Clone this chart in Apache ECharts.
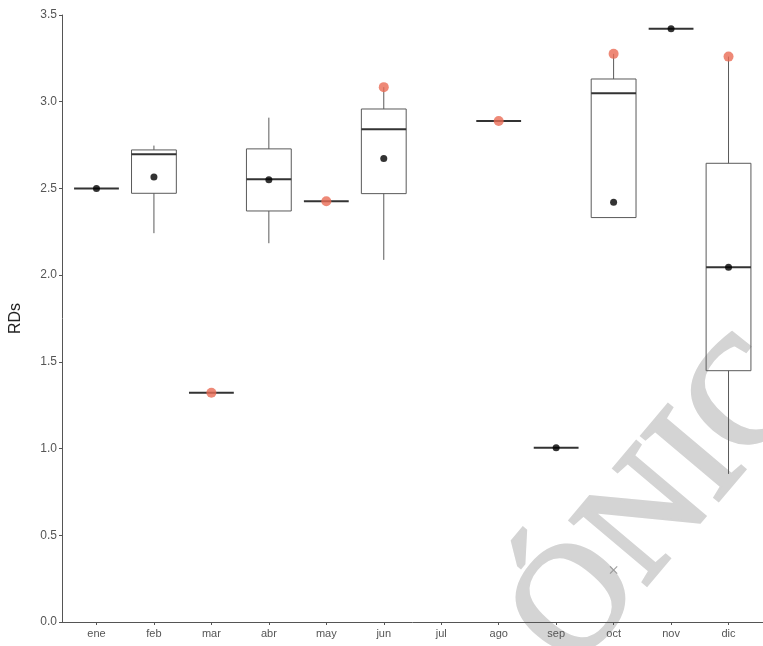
<!DOCTYPE html>
<html>
<head>
<meta charset="utf-8">
<script src="https://cdn.jsdelivr.net/npm/echarts@6/dist/echarts.min.js"></script>
<style>html,body{margin:0;padding:0;background:#fff;}#c{width:763px;height:646px;}</style>
</head>
<body>
<div id="c"></div>
<script>
// ---- data ----
const months = ['ene','feb','mar','abr','may','jun','jul','ago','sep','oct','nov','dic'];
const yTicks = [0, 0.5, 1.0, 1.5, 2.0, 2.5, 3.0, 3.5];
const boxMin    = [2.50, 2.242, 1.322, 2.184, 2.426, 2.088, null, 2.889, 1.005, 2.332, 3.420, 0.854];
const boxQ1     = [2.50, 2.472, 1.322, 2.370, 2.426, 2.470, null, 2.889, 1.005, 2.332, 3.420, 1.449];
const boxMedian = [2.50, 2.697, 1.322, 2.553, 2.426, 2.841, null, 2.889, 1.005, 3.049, 3.420, 2.046];
const boxQ3     = [2.50, 2.722, 1.322, 2.728, 2.426, 2.958, null, 2.889, 1.005, 3.131, 3.420, 2.645];
const boxMax    = [2.50, 2.747, 1.322, 2.908, 2.426, 3.084, null, 2.889, 1.005, 3.276, 3.420, 3.260];
const means     = [2.50, 2.566, null, 2.550, null, 2.672, null, null, 1.005, 2.420, 3.420, 2.046];
const redPts    = [null, null, 1.322, null, 2.426, 3.084, null, 2.889, null, 3.276, null, 3.260];
const crossPts  = [null, null, null, null, null, null, null, null, null, 0.30, null, null];

// ---- build ----
const idx = months.map((m, i) => i);
const boxData = idx.filter(i => boxMin[i] != null)
  .map(i => [i, boxMin[i], boxQ1[i], boxMedian[i], boxQ3[i], boxMax[i]]);
const meanData = idx.filter(i => means[i] != null).map(i => [i, means[i]]);
const redData = idx.filter(i => redPts[i] != null).map(i => [i, redPts[i]]);
const crossData = idx.filter(i => crossPts[i] != null).map(i => [i, crossPts[i]]);

const BOX_W = 0.78;
function renderBox(params, api) {
  const x = api.value(0);
  const lo = api.value(1), q1 = api.value(2), med = api.value(3), q3 = api.value(4), hi = api.value(5);
  const w = api.size([BOX_W, 0])[0];
  const pLo = api.coord([x, lo]), pQ1 = api.coord([x, q1]), pMed = api.coord([x, med]);
  const pQ3 = api.coord([x, q3]), pHi = api.coord([x, hi]);
  const cx = pMed[0];
  const thin = {stroke: '#5a5a5a', lineWidth: 1, fill: null};
  const children = [];
  if (hi > q3) children.push({type: 'line', shape: {x1: cx, y1: pQ3[1], x2: cx, y2: pHi[1]}, style: thin});
  if (lo < q1) children.push({type: 'line', shape: {x1: cx, y1: pQ1[1], x2: cx, y2: pLo[1]}, style: thin});
  if (q3 > q1) children.push({type: 'rect', shape: {x: cx - w / 2, y: pQ3[1], width: w, height: pQ1[1] - pQ3[1]},
    style: {stroke: '#5a5a5a', lineWidth: 1, fill: null}});
  children.push({type: 'line', shape: {x1: cx - w / 2, y1: pMed[1], x2: cx + w / 2, y2: pMed[1]},
    style: {stroke: '#333333', lineWidth: 2}});
  return {type: 'group', children: children};
}

const chart = echarts.init(document.getElementById('c'), null, {renderer: 'canvas'});
chart.setOption({
  backgroundColor: '#ffffff',
  animation: false,
  grid: {left: 61, top: 15, width: 708, bottom: 24, containLabel: false},
  xAxis: {
    type: 'value', min: -0.6, max: 11.6,
    splitLine: {show: false},
    axisLine: {show: true, onZero: false, lineStyle: {color: '#555', width: 1}},
    axisTick: {show: true, length: 3, customValues: idx, lineStyle: {color: '#555'}},
    axisLabel: {customValues: idx, formatter: v => months[Math.round(v)], color: '#555',
      fontSize: 11, fontFamily: 'Liberation Sans, Arial, sans-serif', margin: 6}
  },
  yAxis: {
    type: 'value', min: 0, max: 3.5, interval: 0.5,
    name: 'RDs', nameLocation: 'middle', nameGap: 38, nameRotate: 90,
    nameTextStyle: {color: '#222', fontSize: 16, fontFamily: 'Liberation Sans, Arial, sans-serif'},
    splitLine: {show: false},
    axisLine: {show: true, onZero: false, lineStyle: {color: '#555', width: 1}},
    axisTick: {show: true, length: 3, lineStyle: {color: '#555'}},
    axisLabel: {color: '#555', fontSize: 12, fontFamily: 'Liberation Sans, Arial, sans-serif', margin: 5,
      formatter: v => v.toFixed(1)}
  },
  series: [
    {type: 'custom', renderItem: renderBox, data: boxData, encode: {x: 0, y: [1, 2, 3, 4, 5]}, z: 2},
    {type: 'scatter', data: meanData, symbol: 'circle', symbolSize: 7, itemStyle: {color: '#000'}, z: 5},
    {type: 'scatter', data: redData, symbol: 'circle', symbolSize: 10, itemStyle: {color: '#EA6B55'}, z: 6},
    {type: 'scatter', data: crossData, symbolSize: 8,
      symbol: 'path://M0,1 L1,0 L5,4 L9,0 L10,1 L6,5 L10,9 L9,10 L5,6 L1,10 L0,9 L4,5 Z',
      itemStyle: {color: '#8a8a8a'}, z: 6}
  ],
  graphic: [{
    type: 'text', x: 698, y: 462, rotation: 0.87, z: -1,
    style: {text: 'ÓNICA', font: '152px "Liberation Serif", "DejaVu Serif", serif',
      fill: '#d4d4d4', stroke: '#d4d4d4', lineWidth: 4,
      textAlign: 'center', textVerticalAlign: 'middle'}
  }]
});
</script>
</body>
</html>
